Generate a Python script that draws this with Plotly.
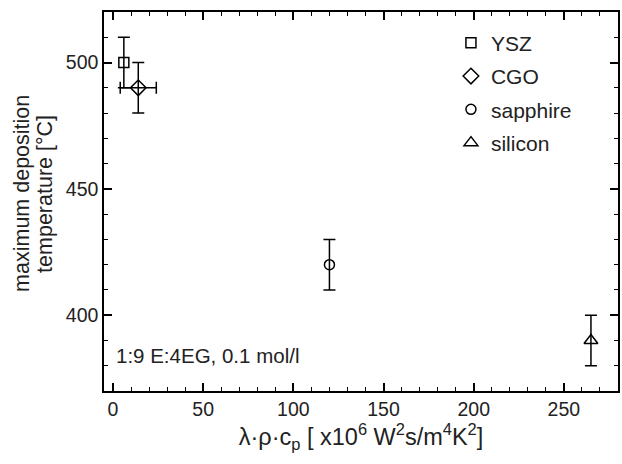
import plotly.graph_objects as go

materials = ["YSZ", "CGO", "sapphire", "silicon"]
x_vals = [6, 14, 120, 265]
y_vals = [500, 490, 420, 390]
y_err = [10, 10, 10, 10]
x_err = [0, 10, 0, 0]
symbols = ["square-open", "diamond-open", "circle-open", "triangle-up-open"]
sizes = [10, 12, 10, 12]
y_title_lines = ["maximum deposition", "temperature [°C]"]

fig = go.Figure()
for name, x, y, ye, xe, sym, sz in zip(materials, x_vals, y_vals, y_err, x_err, symbols, sizes):
    fig.add_trace(go.Scatter(
        x=[x], y=[y], name=name, mode="markers", legendgroup=name,
        marker=dict(symbol=sym, size=sz, color="black", line=dict(width=1.5, color="black")),
        error_y=dict(type="data", array=[ye], visible=True, color="black", thickness=1.5, width=6),
        error_x=dict(type="data", array=[xe], visible=xe > 0, color="black", thickness=1.5, width=6),
    ))

axis_common = dict(
    showline=True, linecolor="black", linewidth=1.5, mirror="ticks",
    ticks="inside", ticklen=8, tickwidth=1.5, tickcolor="black",
    showgrid=False, zeroline=False,
    tickfont=dict(size=19.5, color="#222"),
)

fig.update_xaxes(
    range=[-5, 280], tickvals=[0, 50, 100, 150, 200, 250],
    minor=dict(ticks="inside", ticklen=4, tickwidth=1.2, tickcolor="black", dtick=10, tick0=0),
    title=dict(text="λ·ρ·c<sub>p</sub> [ x10<sup>6</sup> W<sup>2</sup>s/m<sup>4</sup>K<sup>2</sup>]",
               font=dict(size=23.5, color="#222"), standoff=6),
    **axis_common,
)
fig.update_yaxes(
    range=[370, 520], tickvals=[400, 450, 500],
    minor=dict(ticks="inside", ticklen=4, tickwidth=1.2, tickcolor="black", dtick=10, tick0=0),
    **axis_common,
)

# two-line y-axis title with tighter line spacing, as in the reference
for line, shift in zip(y_title_lines, [-82, -59]):
    fig.add_annotation(
        text=line, xref="paper", yref="paper", x=0, y=0.52, xshift=shift,
        xanchor="center", yanchor="middle", textangle=-90, showarrow=False,
        font=dict(size=21.5, color="#222"),
    )

fig.add_annotation(
    text="1:9 E:4EG, 0.1 mol/l", xref="paper", yref="paper", x=0.02, y=0.093,
    xanchor="left", yanchor="middle", showarrow=False, font=dict(size=20.5, color="#222"),
)

fig.update_layout(
    width=622, height=464,
    margin=dict(l=104, r=2, t=12, b=73),
    paper_bgcolor="white", plot_bgcolor="white",
    font=dict(family="Liberation Sans, Arial, sans-serif", color="#222"),
    legend=dict(x=0.675, y=0.972, xanchor="left", yanchor="top", bgcolor="rgba(0,0,0,0)",
                font=dict(size=21, color="#222"), itemsizing="trace", tracegroupgap=3,
                itemwidth=30),
    showlegend=True,
)

fig.write_html("out.html")
